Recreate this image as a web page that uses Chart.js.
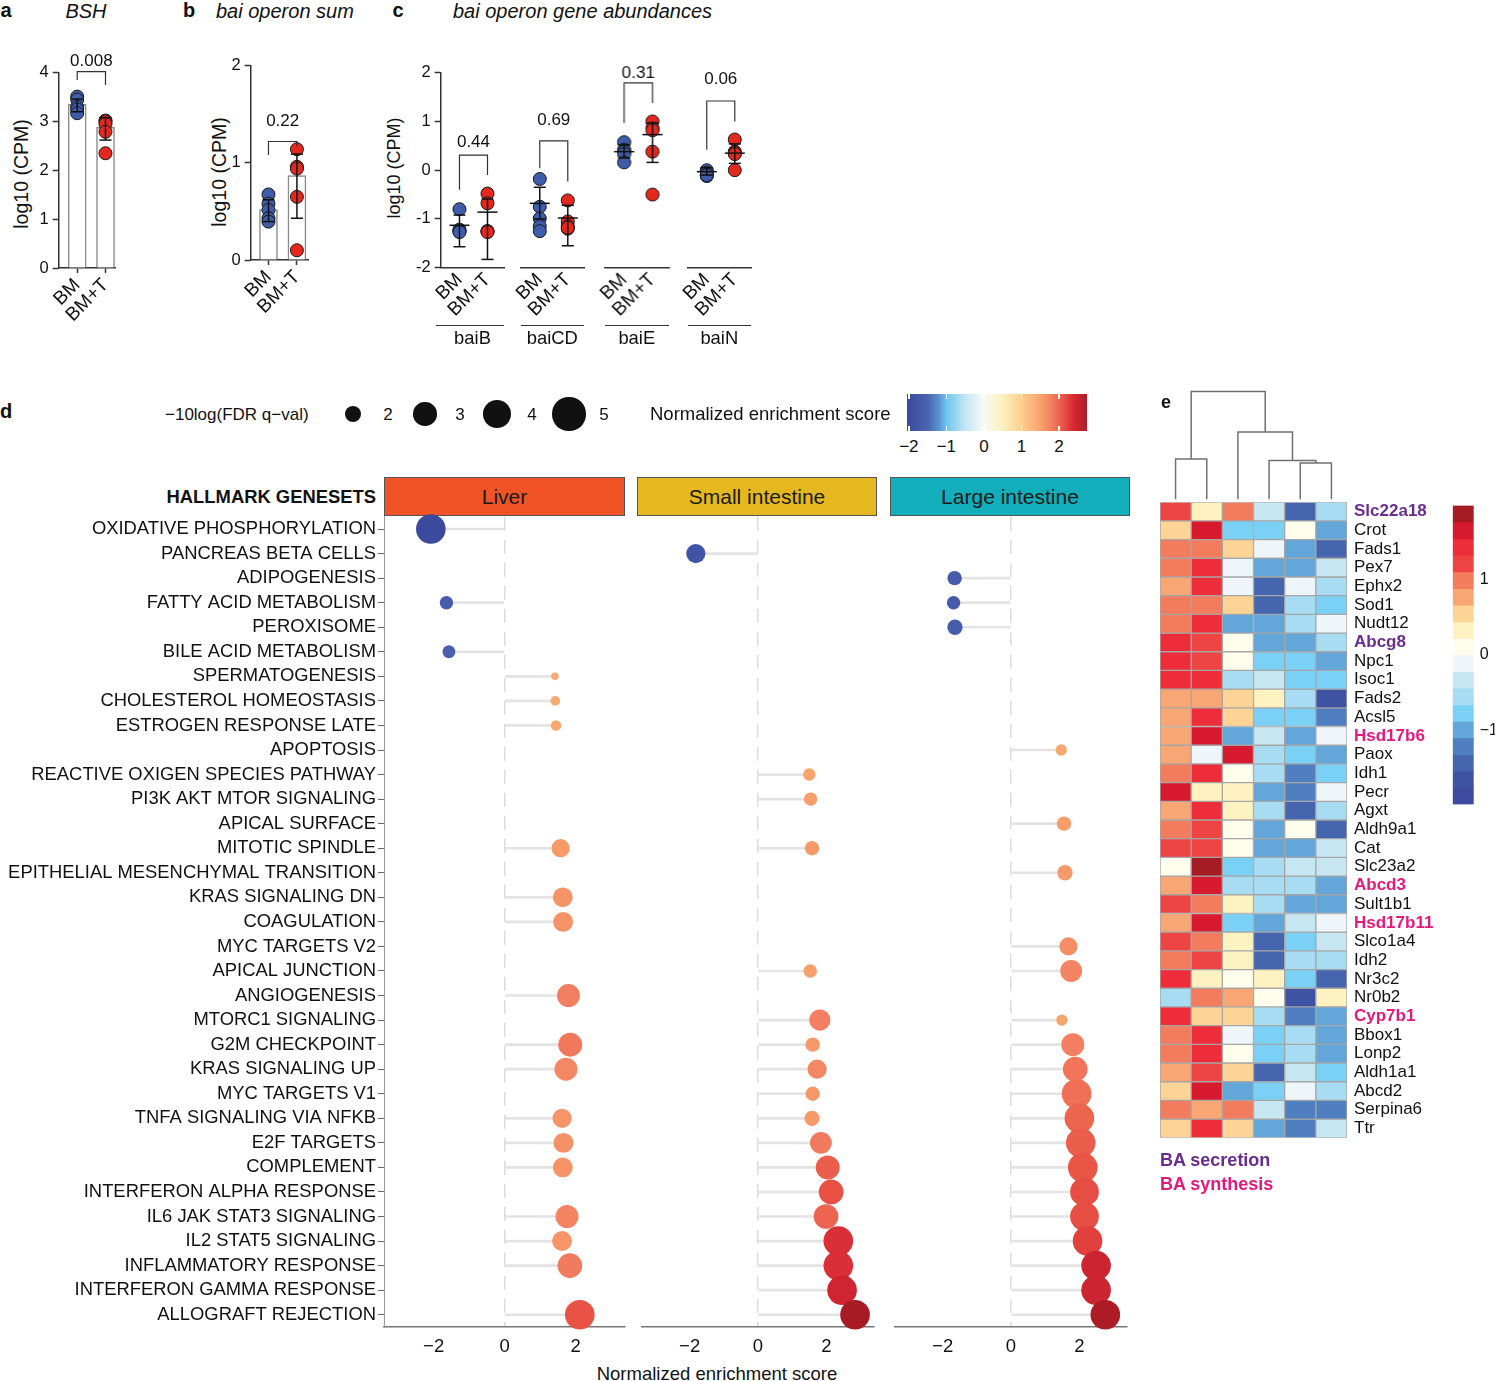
<!DOCTYPE html>
<html>
<head>
<meta charset="utf-8">
<script src="https://cdn.jsdelivr.net/npm/chart.js@4.4.1/dist/chart.umd.min.js"></script>
<style>
  html, body { margin: 0; padding: 0; background: #fff; }
  #fig { position: relative; width: 1500px; height: 1381px; overflow: hidden;
         font-family: "Liberation Sans", Arial, sans-serif; color: #111; }
  #fig canvas { position: absolute; }
  .t { position: absolute; white-space: nowrap; line-height: 1; }
  .strip { position: absolute; box-sizing: border-box; border: 1px solid #555;
           display: flex; align-items: center; justify-content: center;
           font-size: 21px; color: #1a1a1a; }
</style>
</head>
<body>
<div id="fig"></div>
<script>
// ---------- data: panels a-c ----------
const groups = ['BM', 'BM+T'];

// a: BSH
const bshBars = [3.35, 2.88];
const bshBM = [3.51, 3.45, 3.30, 3.25, 3.17];
const bshBMT = [3.02, 3.00, 2.95, 2.79, 2.35];
const bshErr = [[3.35, 3.20, 3.46], [2.88, 2.62, 3.08]];   // mean, low, high
const bshP = { top: 4.02, left: 3.85, right: 3.75, labelY: 4.13, text: '0.008' };

// b: bai operon sum
const sumBars = [0.52, 0.87];
const sumBM = [0.675, 0.58, 0.515, 0.43, 0.395];
const sumBMT = [1.14, 0.96, 0.94, 0.65, 0.10];
const sumErr = [[0.52, 0.395, 0.62], [0.87, 0.43, 1.09]];
const sumP = { top: 1.22, left: 1.08, right: 1.17, labelY: 1.38, text: '0.22' };

// c: bai gene abundances
const baiGenes = ['baiB', 'baiCD', 'baiE', 'baiN'];
const baiBM = [
  [-0.80, -1.22, -1.25, -1.25, -1.27],
  [-0.18, -0.75, -0.99, -1.15, -1.25],
  [0.575, 0.42, 0.38, 0.33, 0.16],
  [0.00, -0.05, -0.10, -0.12, -0.10]
];
const baiBMT = [
  [-0.48, -0.68, -1.25, -1.25, -1.27],
  [-0.62, -1.05, -1.15, -1.20, -1.18],
  [1.00, 0.86, 0.82, 0.38, -0.50],
  [0.63, 0.38, 0.35, 0.33, 0.00]
];
const baiErr = [
  [[-1.13, -1.57, -0.92], [-0.86, -1.83, -0.59]],
  [[-0.68, -1.00, -0.35], [-0.98, -1.55, -0.72]],
  [[0.38, 0.25, 0.52], [0.73, 0.16, 0.97]],
  [[-0.03, -0.10, 0.05], [0.35, 0.14, 0.54]]
];
const baiP = [
  { top: 0.31, left: -0.40, right: -0.10, labelY: 0.48, text: '0.44' },
  { top: 0.60, left: 0.04, right: -0.23, labelY: 0.93, text: '0.69' },
  { top: 1.79, left: 0.97, right: 1.38, labelY: 1.90, text: '0.31' },
  { top: 1.42, left: 0.42, right: 1.00, labelY: 1.77, text: '0.06' }
];

// ---------- data: panel d ----------
const genesets = ['OXIDATIVE PHOSPHORYLATION', 'PANCREAS BETA CELLS', 'ADIPOGENESIS',
  'FATTY ACID METABOLISM', 'PEROXISOME', 'BILE ACID METABOLISM', 'SPERMATOGENESIS',
  'CHOLESTEROL HOMEOSTASIS', 'ESTROGEN RESPONSE LATE', 'APOPTOSIS',
  'REACTIVE OXIGEN SPECIES PATHWAY', 'PI3K AKT MTOR SIGNALING', 'APICAL SURFACE',
  'MITOTIC SPINDLE', 'EPITHELIAL MESENCHYMAL TRANSITION', 'KRAS SIGNALING DN',
  'COAGULATION', 'MYC TARGETS V2', 'APICAL JUNCTION', 'ANGIOGENESIS', 'MTORC1 SIGNALING',
  'G2M CHECKPOINT', 'KRAS SIGNALING UP', 'MYC TARGETS V1', 'TNFA SIGNALING VIA NFKB',
  'E2F TARGETS', 'COMPLEMENT', 'INTERFERON ALPHA RESPONSE', 'IL6 JAK STAT3 SIGNALING',
  'IL2 STAT5 SIGNALING', 'INFLAMMATORY RESPONSE', 'INTERFERON GAMMA RESPONSE',
  'ALLOGRAFT REJECTION'];
const tissues = ['Liver', 'Small intestine', 'Large intestine'];

const liverNES = [-2.08, null, null, -1.64, null, -1.57, 1.42, 1.43, 1.45, null, null, null, null,
  1.58, null, 1.64, 1.65, null, null, 1.80, null, 1.85, 1.73, null, 1.62, 1.66, 1.64, null,
  1.76, 1.62, 1.84, null, 2.12];
const liverScore = [4.2, null, null, 1.6, null, 1.55, 1.14, 1.27, 1.34, null, null, null, null,
  2.16, null, 2.4, 2.4, null, null, 2.9, null, 3.07, 2.9, null, 2.3, 2.4, 2.4, null,
  2.9, 2.4, 3.2, null, 4.2];
const siNES = [null, -1.82, null, null, null, null, null, null, null, null, 1.50, 1.54, null,
  1.58, null, null, null, null, 1.53, null, 1.81, 1.60, 1.73, 1.60, 1.58, 1.84, 2.04, 2.14,
  1.99, 2.35, 2.35, 2.46, 2.84];
const siScore = [null, 2.3, null, null, null, null, null, null, null, null, 1.5, 1.6, null,
  1.7, null, null, null, null, 1.6, null, 2.6, 1.7, 2.3, 1.7, 1.8, 2.7, 3.07, 3.2,
  3.2, 4.2, 4.2, 4.2, 4.2];
const liNES = [null, null, -1.65, -1.68, -1.64, null, null, null, null, 1.47, null, null, 1.55,
  null, 1.58, null, null, 1.68, 1.76, null, 1.49, 1.81, 1.88, 1.92, 2.00, 2.04, 2.10, 2.15,
  2.15, 2.24, 2.49, 2.49, 2.76];
const liScore = [null, null, 1.7, 1.6, 1.8, null, null, null, null, 1.41, null, null, 1.7,
  null, 1.8, null, null, 2.16, 2.7, null, 1.41, 2.9, 3.2, 4.2, 4.2, 4.2, 4.2, 4.0,
  4.0, 4.2, 4.2, 4.2, 4.2];

const sizeLegend = [2, 3, 4, 5];
const nesTicks = [-2, -1, 0, 1, 2];

// ---------- data: panel e ----------
const heatGenes = ['Slc22a18', 'Crot', 'Fads1', 'Pex7', 'Ephx2', 'Sod1', 'Nudt12', 'Abcg8',
  'Npc1', 'Isoc1', 'Fads2', 'Acsl5', 'Hsd17b6', 'Paox', 'Idh1', 'Pecr', 'Agxt', 'Aldh9a1',
  'Cat', 'Slc23a2', 'Abcd3', 'Sult1b1', 'Hsd17b11', 'Slco1a4', 'Idh2', 'Nr3c2', 'Nr0b2',
  'Cyp7b1', 'Bbox1', 'Lonp2', 'Aldh1a1', 'Abcd2', 'Serpina6', 'Ttr'];
const secretionGenes = ['Slc22a18', 'Abcg8'];
const synthesisGenes = ['Hsd17b6', 'Abcd3', 'Hsd17b11', 'Cyp7b1'];
const heatValues = [
  [1.19, 0.32, 0.97, -0.33, -1.41, -0.54],
  [0.54, 1.62, -0.76, -0.76, 0.11, -0.98],
  [0.97, 0.97, 0.54, -0.11, -0.98, -1.41],
  [0.97, 1.41, -0.11, -0.98, -0.98, -0.33],
  [0.76, 1.41, -0.11, -1.41, -0.11, -0.54],
  [0.97, 0.97, 0.54, -1.41, -0.54, -0.76],
  [0.97, 1.41, -0.98, -0.98, -0.54, -0.11],
  [1.41, 1.19, 0.11, -0.98, -0.98, -0.54],
  [1.41, 1.19, 0.11, -0.76, -0.76, -0.98],
  [1.41, 1.41, -0.54, -0.33, -0.76, -0.76],
  [0.76, 0.76, 0.54, 0.32, -0.54, -1.63],
  [0.76, 1.41, 0.54, -0.76, -0.76, -1.19],
  [0.76, 1.62, -0.98, -0.33, -0.98, -0.11],
  [0.76, -0.11, 1.62, -0.54, -0.76, -0.98],
  [0.97, 1.41, 0.11, -0.54, -1.19, -0.76],
  [1.62, 0.32, 0.32, -0.98, -1.19, -0.11],
  [0.76, 1.41, 0.32, -0.54, -1.41, -0.54],
  [0.97, 1.19, 0.11, -0.98, 0.11, -1.41],
  [1.19, 1.19, 0.11, -0.98, -0.98, -0.33],
  [0.11, 1.84, -0.76, -0.54, -0.33, -0.33],
  [0.76, 1.62, -0.54, -0.54, -0.54, -0.98],
  [1.19, 0.97, 0.32, -0.54, -0.98, -0.98],
  [0.76, 1.62, -0.76, -0.98, -0.33, -0.11],
  [1.19, 0.97, 0.32, -1.41, -0.76, -0.33],
  [0.97, 1.19, 0.32, -1.41, -0.54, -0.54],
  [1.41, 0.32, 0.11, 0.32, -0.76, -1.41],
  [-0.54, 0.97, 0.76, 0.11, -1.63, 0.32],
  [1.41, 0.54, 0.54, -0.54, -1.19, -0.98],
  [0.97, 1.41, -0.11, -0.76, -0.54, -0.98],
  [0.97, 1.41, 0.11, -0.76, -0.54, -0.98],
  [0.76, 1.19, 0.54, -1.41, -0.33, -0.76],
  [0.54, 1.62, -0.98, -0.76, -0.11, -0.54],
  [0.97, 0.76, 0.97, -0.33, -1.19, -1.19],
  [0.54, 1.41, 0.54, -0.98, -1.19, -0.33]
];
const heatTicks = [1, 0, -1];
// column dendrogram: [left node, right node, height]; leaves are 0-5, merges make 6, 7, ...
const dendroMerges = [[0, 1, 0.376], [4, 5, 0.339], [3, 7, 0.361], [2, 8, 0.625], [6, 9, 1.0]];

// ---------- styles ----------
const FONT = '"Liberation Sans", Arial, sans-serif';
const BLUE = '#3E5CAA', RED = '#E4281E';
const nesStops = [[-2, '#3C4A9E'], [-1.5, '#4A64B0'], [-1.2, '#5A92D0'], [-1, '#6CC5EF'],
  [-0.5, '#C2E6F5'], [0, '#F7FAF4'], [0.5, '#FBF1BE'], [1, '#FDCF90'], [1.5, '#F8A46C'],
  [1.8, '#F37F62'], [2.1, '#EA5646'], [2.4, '#D72733'], [2.8, '#A81B25']];
const heatPalette = ['#A51C24', '#D81A31', '#EE2D3A', '#EE4443', '#F37B5E', '#F9A675',
  '#FDD496', '#FEF3C0', '#FFFDEC', '#EEF5FB', '#C6E6F2', '#A7DCF2', '#7BD0F5', '#62A6DA',
  '#4F7FC1', '#4565AF', '#3F53A4', '#3C4A9F'];
const heatTop = 1.97, heatStep = 0.219;

Chart.defaults.font.family = FONT;
Chart.defaults.color = '#111';
Chart.defaults.animation = false;
Chart.defaults.responsive = false;
Chart.defaults.plugins.legend.display = false;
Chart.defaults.plugins.tooltip.enabled = false;

const fig = document.getElementById('fig');

function hexToRgb(h) {
  return [parseInt(h.slice(1, 3), 16), parseInt(h.slice(3, 5), 16), parseInt(h.slice(5, 7), 16)];
}
function nesColor(v) {
  if (v <= nesStops[0][0]) return nesStops[0][1];
  for (let i = 1; i < nesStops.length; i++) {
    if (v <= nesStops[i][0]) {
      const [v0, c0] = nesStops[i - 1], [v1, c1] = nesStops[i];
      const f = (v - v0) / (v1 - v0);
      const a = hexToRgb(c0), b = hexToRgb(c1);
      return 'rgb(' + a.map((x, k) => Math.round(x + (b[k] - x) * f)).join(',') + ')';
    }
  }
  return nesStops[nesStops.length - 1][1];
}
function heatColor(v) {
  const k = Math.min(heatPalette.length - 1, Math.max(0, Math.floor((heatTop - v) / heatStep)));
  return heatPalette[k];
}
function sizeR(s) { return Math.sqrt(Math.max(67 * s - 62, 4)); }

function addCanvas(x, y, w, h) {
  const c = document.createElement('canvas');
  c.width = w; c.height = h;
  c.style.left = x + 'px'; c.style.top = y + 'px';
  c.style.width = w + 'px'; c.style.height = h + 'px';
  c.dataset.x = x; c.dataset.y = y;
  fig.appendChild(c);
  return c;
}
function addText(str, x, y, o = {}) {
  const d = document.createElement('div');
  d.className = 't';
  d.textContent = str;
  d.style.left = x + 'px'; d.style.top = y + 'px';
  d.style.fontSize = (o.size || 18) + 'px';
  if (o.bold) d.style.fontWeight = 'bold';
  if (o.italic) d.style.fontStyle = 'italic';
  if (o.color) d.style.color = o.color;
  const ax = o.align === 'left' ? '0' : o.align === 'right' ? '-100%' : '-50%';
  d.style.transform = `translate(${ax},-50%)` + (o.rotate ? ` rotate(${o.rotate}deg)` : '');
  fig.appendChild(d);
  return d;
}
function addBox(x, y, w, h, css) {
  const d = document.createElement('div');
  d.style.position = 'absolute';
  d.style.left = x + 'px'; d.style.top = y + 'px';
  d.style.width = w + 'px'; d.style.height = h + 'px';
  Object.assign(d.style, css);
  fig.appendChild(d);
  return d;
}
const minus = v => v < 0 ? '\u2212' + (-v) : String(v);

// nudge layout padding until the plot area sits on the wanted page rectangle
function fitArea(chart, l, t, r, b) {
  const cx = +chart.canvas.dataset.x, cy = +chart.canvas.dataset.y;
  const p = chart.config.options.layout.padding;
  for (let k = 0; k < 4; k++) {
    const a = chart.chartArea;
    p.left += (l - cx) - a.left;
    p.top += (t - cy) - a.top;
    p.right += a.right - (r - cx);
    p.bottom += a.bottom - (b - cy);
    chart.update();
  }
  return chart;
}
const pad0 = () => ({ padding: { left: 0, right: 0, top: 0, bottom: 0 } });

// error bars and significance brackets for panels a-c
const annotPlugin = {
  id: 'annot',
  afterDatasetsDraw(chart, args, opts) {
    const { ctx, scales: { x, y } } = chart;
    ctx.save();
    ctx.strokeStyle = '#111';
    ctx.lineWidth = 1.5;
    const seg = (x1, y1, x2, y2) => { ctx.beginPath(); ctx.moveTo(x1, y1); ctx.lineTo(x2, y2); ctx.stroke(); };
    (opts.errors || []).forEach((e, i) => {
      const px = x.getPixelForValue(i);
      const pm = y.getPixelForValue(e[0]), pl = y.getPixelForValue(e[1]), ph = y.getPixelForValue(e[2]);
      seg(px, pl, px, ph);
      seg(px - 6, pl, px + 6, pl);
      seg(px - 6, ph, px + 6, ph);
      if (opts.meanW) seg(px - opts.meanW, pm, px + opts.meanW, pm);
    });
    const b = opts.bracket;
    if (b) {
      ctx.lineWidth = 1.2;
      ctx.strokeStyle = '#333';
      const x0 = x.getPixelForValue(0), x1 = x.getPixelForValue(1), yt = y.getPixelForValue(b.top);
      ctx.beginPath();
      ctx.moveTo(x0, y.getPixelForValue(b.left));
      ctx.lineTo(x0, yt); ctx.lineTo(x1, yt);
      ctx.lineTo(x1, y.getPixelForValue(b.right));
      ctx.stroke();
      ctx.fillStyle = '#111';
      ctx.font = '17px ' + FONT;
      ctx.textAlign = 'center';
      ctx.textBaseline = 'alphabetic';
      ctx.fillText(b.text, (x0 + x1) / 2, y.getPixelForValue(b.labelY));
    }
    ctx.restore();
  }
};

function groupChart(canvas, o) {
  const datasets = [];
  if (o.bars) {
    datasets.push({ type: 'bar', data: o.bars.map((v, i) => ({ x: i, y: v })),
      backgroundColor: '#fff', borderColor: '#8a8a8a', borderWidth: 1.5, barThickness: 18, order: 3 });
  }
  [o.bm, o.bmt].forEach((arr, g) => {
    datasets.push({ type: 'scatter', data: arr.map(v => ({ x: g, y: v })),
      pointRadius: 6.5, backgroundColor: g ? RED : BLUE, borderColor: '#1a1a1a', borderWidth: 1, order: 1 });
  });
  return new Chart(canvas, {
    type: 'bar',
    data: { datasets },
    options: {
      layout: pad0(),
      scales: {
        x: {
          type: 'linear', min: o.xMin, max: o.xMax, offset: false,
          afterBuildTicks: s => { s.ticks = [{ value: 0 }, { value: 1 }]; },
          ticks: { callback: v => groups[v], minRotation: 45, maxRotation: 45, autoSkip: false,
                   font: { size: 19 }, color: '#111', padding: 1 },
          grid: { drawOnChartArea: false, offset: false, drawTicks: o.xTicks, tickLength: 5,
                  tickColor: '#333', tickWidth: 1.5 },
          border: { color: '#333', width: 1.5 }
        },
        y: {
          type: 'linear', display: o.showY, min: o.yMin, max: o.yMax,
          ticks: { stepSize: 1, font: { size: 16.5 }, color: '#111', padding: 4 },
          grid: { drawOnChartArea: false, tickLength: 6, tickColor: '#333', tickWidth: 1.5 },
          border: { color: '#333', width: 1.5 }
        }
      },
      plugins: { annot: { errors: o.errors, bracket: o.bracket, meanW: o.meanW } }
    },
    plugins: [annotPlugin]
  });
}

// ---------- panel a ----------
addText('a', 6, 10, { size: 20, bold: true });
addText('BSH', 86, 11, { size: 20, italic: true });
addText('log10 (CPM)', 22, 174, { size: 19.5, rotate: -90 });
fitArea(groupChart(addCanvas(0, 40, 130, 300), {
  bars: bshBars, bm: bshBM, bmt: bshBMT, errors: bshErr, bracket: bshP,
  xMin: -0.654, xMax: 1.336, yMin: 0, yMax: 4, showY: true, xTicks: true
}), 58.7, 72.7, 115, 268);

// ---------- panel b ----------
addText('b', 189, 10, { size: 20, bold: true });
addText('bai operon sum', 216, 11, { size: 20, italic: true, align: 'left' });
addText('log10 (CPM)', 220, 172, { size: 19.5, rotate: -90 });
fitArea(groupChart(addCanvas(180, 40, 140, 300), {
  bars: sumBars, bm: sumBM, bmt: sumBMT, errors: sumErr, bracket: sumP,
  xMin: -0.625, xMax: 1.4, yMin: 0, yMax: 2, showY: true, xTicks: true
}), 250.7, 65.7, 308.3, 260);

// ---------- panel c ----------
addText('c', 398, 10, { size: 20, bold: true });
addText('bai operon gene abundances', 453, 11, { size: 20, italic: true, align: 'left' });
addText('log10 (CPM)', 394, 168, { size: 18, rotate: -90 });
const baiAreaLeft = [440.7, 520.5, 605, 687.5];
const baiAreaW = 63.6;
baiGenes.forEach((g, i) => {
  const first = i === 0;
  const left = first ? 380 : baiAreaLeft[i] - 14;
  const w = first ? 140 : baiAreaW + 28;
  fitArea(groupChart(addCanvas(left, 40, w, 300), {
    bm: baiBM[i], bmt: baiBMT[i], errors: baiErr[i], bracket: baiP[i], meanW: 10,
    xMin: -0.67, xMax: 1.6, yMin: -2, yMax: 2, showY: first, xTicks: false
  }), baiAreaLeft[i], 72.7, baiAreaLeft[i] + baiAreaW, 267.7);
  const lx = baiAreaLeft[i] - (first ? 5 : 0);
  addBox(lx, 324.5, baiAreaLeft[i] + baiAreaW - lx, 0, { borderTop: '1.5px solid #333' });
  addText(g, baiAreaLeft[i] + baiAreaW / 2, 338, { size: 18.4 });
});

// ---------- panel d: legend ----------
addText('d', 6, 411, { size: 20, bold: true });
addText('\u221210log(FDR q\u2212val)', 165, 414, { size: 17, align: 'left' });
const legDotX = [353, 425, 497, 569];
sizeLegend.forEach((s, i) => {
  const d = 2 * sizeR(s);
  addBox(legDotX[i] - d / 2, 414 - d / 2, d, d, { borderRadius: '50%', background: '#111' });
  addText(String(s), legDotX[i] + 35, 414, { size: 17 });
});
addText('Normalized enrichment score', 650, 414, { size: 18.5, align: 'left' });
const cbLeft = 907, cbW = 180, cbMin = -2.05, cbMax = 2.75;
const grad = nesStops.map(([v, c]) => `${c} ${((v - cbMin) / (cbMax - cbMin) * 100).toFixed(1)}%`).join(', ');
addBox(cbLeft, 394, cbW, 37, { background: `linear-gradient(to right, ${grad})` });
nesTicks.forEach(v => {
  const px = cbLeft + (v - cbMin) / (cbMax - cbMin) * cbW;
  addBox(px - 0.75, 394, 1.5, 5, { background: '#fff' });
  addBox(px - 0.75, 426, 1.5, 5, { background: '#fff' });
  addText(minus(v), px, 446, { size: 17 });
});

// ---------- panel d: facets ----------
addText('HALLMARK GENESETS', 376, 497, { size: 18.4, bold: true, align: 'right' });
const stripColors = ['#F05325', '#E5B820', '#13AEBB'];
const facetLeft = [384, 637, 890];
const facetRight = [625, 877, 1130];
tissues.forEach((t, i) => {
  const s = addBox(facetLeft[i], 477, facetRight[i] - facetLeft[i], 39, { background: stripColors[i] });
  s.className = 'strip';
  s.textContent = t;
});
addText('Normalized enrichment score', 717, 1374, { size: 18.5 });

function facetChart(canvas, nes, score, showY) {
  const stems = nes.map(v => v === null ? null : [0, v]);
  const dots = [];
  nes.forEach((v, i) => { if (v !== null) dots.push({ x: v, y: genesets[i], s: score[i] }); });
  return new Chart(canvas, {
    type: 'scatter',
    data: {
      labels: genesets,
      datasets: [
        { type: 'scatter', data: dots, order: 1,
          pointRadius: c => c.raw ? sizeR(c.raw.s) : 5,
          pointBackgroundColor: c => c.raw ? nesColor(c.raw.x) : '#000',
          pointBorderWidth: 0 },
        { type: 'bar', indexAxis: 'y', data: stems, order: 2,
          backgroundColor: '#e3e3e3', barThickness: 2 }
      ]
    },
    options: {
      layout: pad0(),
      scales: {
        x: {
          type: 'linear', min: -3.4, max: 3.4, offset: false,
          afterBuildTicks: s => { s.ticks = [-2, 0, 2].map(v => ({ value: v })); },
          ticks: { font: { size: 18.5 }, color: '#111', padding: 9, maxRotation: 0, callback: v => minus(v) },
          grid: { color: c => c.tick && c.tick.value === 0 ? '#dcdcdc' : 'rgba(0,0,0,0)',
                  lineWidth: 1.5, drawTicks: false, offset: false },
          border: { color: '#777', width: 1.5, dash: [14, 9] }
        },
        y: {
          type: 'category', labels: genesets, offset: true, display: showY,
          afterFit: s => { if (showY) s.width = 380; },
          ticks: { autoSkip: false, font: { size: 18.4 }, color: '#111', padding: 2 },
          grid: { drawOnChartArea: false, offset: false, tickLength: 6, tickColor: '#666', tickWidth: 1 },
          border: { color: '#999', width: 1 }
        }
      }
    }
  });
}
fitArea(facetChart(addCanvas(0, 500, 640, 881), liverNES, liverScore, true), 384, 519, 625, 1327);
fitArea(facetChart(addCanvas(627, 500, 262, 881), siNES, siScore, false), 637, 519, 877, 1327);
fitArea(facetChart(addCanvas(880, 500, 262, 881), liNES, liScore, false), 890, 519, 1130, 1327);

// ---------- panel e: heatmap ----------
addText('e', 1166, 402, { size: 18, bold: true });
const geneColor = i => secretionGenes.includes(heatGenes[i]) ? '#6A2C8F'
  : synthesisGenes.includes(heatGenes[i]) ? '#E4197C' : '#111';
fitArea(new Chart(addCanvas(1150, 485, 300, 670), {
  type: 'bar',
  data: {
    labels: ['1', '2', '3', '4', '5', '6'],
    datasets: heatGenes.map((g, r) => ({
      label: g,
      data: heatValues[r].map(() => 1),
      backgroundColor: heatValues[r].map(heatColor),
      borderColor: '#a6a6a6', borderWidth: 1, borderSkipped: false,
      barPercentage: 1, categoryPercentage: 1, stack: 'heat'
    }))
  },
  options: {
    layout: pad0(),
    scales: {
      x: { display: false, stacked: true },
      y: {
        stacked: true, reverse: true, min: 0, max: heatGenes.length, position: 'right',
        afterBuildTicks: s => { s.ticks = heatGenes.map((g, i) => ({ value: i + 0.5 })); },
        ticks: { autoSkip: false, padding: 7, callback: (v, i) => heatGenes[i],
                 color: c => geneColor(c.index),
                 font: c => ({ size: 17, weight: geneColor(c.index) === '#111' ? 'normal' : 'bold' }) },
        grid: { display: false, drawTicks: false },
        border: { display: false }
      }
    }
  }
}), 1160, 499.5, 1347, 1135.5);

// dendrogram above the heatmap
const nodeX = [0.5, 1.5, 2.5, 3.5, 4.5, 5.5], nodeH = [0, 0, 0, 0, 0, 0];
const dendroSets = dendroMerges.map(([a, b, h]) => {
  const pts = [{ x: nodeX[a], y: nodeH[a] }, { x: nodeX[a], y: h }, { x: nodeX[b], y: h }, { x: nodeX[b], y: nodeH[b] }];
  nodeX.push((nodeX[a] + nodeX[b]) / 2);
  nodeH.push(h);
  return { data: pts, showLine: true, pointRadius: 0, borderColor: '#707070', borderWidth: 1.5 };
});
fitArea(new Chart(addCanvas(1155, 380, 197, 125), {
  type: 'scatter',
  data: { datasets: dendroSets },
  options: {
    layout: pad0(),
    scales: {
      x: { type: 'linear', display: false, min: 0, max: 6 },
      y: { type: 'linear', display: false, min: 0, max: 1.06 }
    }
  }
}), 1160, 385, 1347, 499.5);

// heatmap colour key
fitArea(new Chart(addCanvas(1446, 490, 54, 330), {
  type: 'bar',
  data: {
    labels: [''],
    datasets: heatPalette.map((c, k) => ({
      data: [[heatTop - heatStep * (k + 1), heatTop - heatStep * k]],
      backgroundColor: c, borderWidth: 0, grouped: false, barPercentage: 1, categoryPercentage: 1
    }))
  },
  options: {
    layout: pad0(),
    scales: {
      x: { display: false },
      y: {
        min: heatTop - heatStep * heatPalette.length, max: heatTop, position: 'right',
        afterBuildTicks: s => { s.ticks = heatTicks.map(v => ({ value: v })); },
        ticks: { callback: v => minus(v), font: { size: 16 }, color: '#111', padding: 6 },
        grid: { display: false, drawTicks: false },
        border: { display: false }
      }
    }
  }
}), 1452.7, 500, 1473.3, 811.7);

addText('BA secretion', 1160, 1160, { size: 18, bold: true, color: '#6A2C8F', align: 'left' });
addText('BA synthesis', 1160, 1184, { size: 18, bold: true, color: '#E4197C', align: 'left' });
</script>
</body>
</html>
